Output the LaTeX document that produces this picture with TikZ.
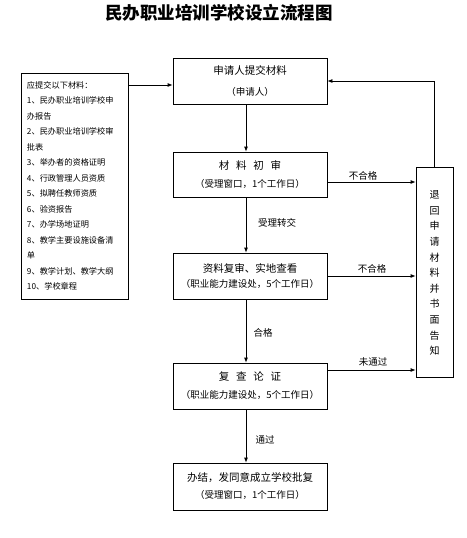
\documentclass[tikz,border=0pt]{standalone}
\usepackage{fontspec}
\setmainfont{Noto Sans CJK SC}
\usetikzlibrary{arrows.meta}
\newcommand{\gp}{\hspace{0.65em}}
\begin{document}
\begin{tikzpicture}[x=1pt,y=-1pt,
  box/.style={draw,line width=0.8pt,minimum width=154pt,inner sep=0pt,align=center,font=\fontsize{9.5}{18}\selectfont},
  lbl/.style={font=\fontsize{9.5}{11}\selectfont,inner sep=0pt},
  arr/.style={line width=0.8pt,-{Latex[length=5pt,width=4pt]}}]
\useasboundingbox (0,0) rectangle (466,538);
\fill[white] (0,0) rectangle (466,538);
\node[font=\fontsize{17.5}{20}\selectfont\bfseries] (title) at (219,13) {民办职业培训学校设立流程图};
\node[draw,line width=0.8pt,minimum width=107pt,minimum height=226pt,text width=95pt,inner sep=6pt,align=left,font=\fontsize{8.2}{15.5}\selectfont] (list) at (74.5,186)
 {应提交以下材料：\\1、民办职业培训学校申\\办报告\\2、民办职业培训学校审\\批表\\3、举办者的资格证明\\4、行政管理人员资质\\5、拟聘任教师资质\\6、验资报告\\7、办学场地证明\\8、教学主要设施设备清\\单\\9、教学计划、教学大纲\\10、学校章程};
\node[box,minimum height=46pt,font=\fontsize{9.5}{21}\selectfont] (b1) at (250,81) {{\fontsize{10.5}{21}\selectfont 申请人提交材料}\\（申请人）};
\node[box,minimum height=45pt] (b2) at (250,174.5) {{\fontsize{10.5}{18}\selectfont 材\gp 料\gp 初\gp 审}\\（受理窗口，1个工作日）};
\node[box,minimum height=46pt,font=\fontsize{9.5}{15}\selectfont] (b3) at (250,276) {{\fontsize{10.5}{15}\selectfont 资料复审、实地查看}\\（职业能力建设处，5个工作日）};
\node[box,minimum height=46pt] (b4) at (250,386) {{\fontsize{10.5}{18}\selectfont 复\gp 查\gp 论\gp 证}\\（职业能力建设处，5个工作日）};
\node[box,minimum height=47pt,font=\fontsize{9.5}{17}\selectfont] (b5) at (250,486.5) {{\fontsize{10.5}{17}\selectfont 办结，发同意成立学校批复}\\（受理窗口，1个工作日）};
\node[draw,line width=0.8pt,minimum width=37pt,minimum height=210pt,inner sep=0pt] (r) at (434.5,272) {};
\node[align=center,inner sep=0pt,font=\fontsize{10}{15.6}\selectfont] (rt) at (434.5,273) {退\\回\\申\\请\\材\\料\\并\\书\\面\\告\\知};
\coordinate (lp) at (128,85);
\draw[arr] (lp) -- (lp -| b1.west);
\draw[arr] ([xshift=-4pt]b1.south) -- ([xshift=-4pt]b2.north);
\draw[arr] ([xshift=-4pt]b2.south) -- ([xshift=-4pt]b3.north);
\draw[arr] ([xshift=-4pt]b3.south) -- ([xshift=-4pt]b4.north);
\draw[arr] ([xshift=-4pt]b4.south) -- ([xshift=-4pt]b5.north);
\draw[arr] ([yshift=-7.5pt]b2.east) -- ([yshift=-7.5pt]b2.east -| r.west);
\draw[arr] (b3.east) -- (b3.east -| r.west);
\draw[arr] ([yshift=16pt]b4.east) -- ([yshift=16pt]b4.east -| r.west);
\draw[arr] (r.north) |- (b1.east);
\node[lbl] (l1) at (363,176) {不合格};
\node[lbl] (l2) at (372,269) {不合格};
\node[lbl] (l3) at (373,362) {未通过};
\node[lbl] (l4) at (277,223) {受理转交};
\node[lbl] (l5) at (263,333) {合格};
\node[lbl] (l6) at (265,440) {通过};
\end{tikzpicture}
\end{document}
